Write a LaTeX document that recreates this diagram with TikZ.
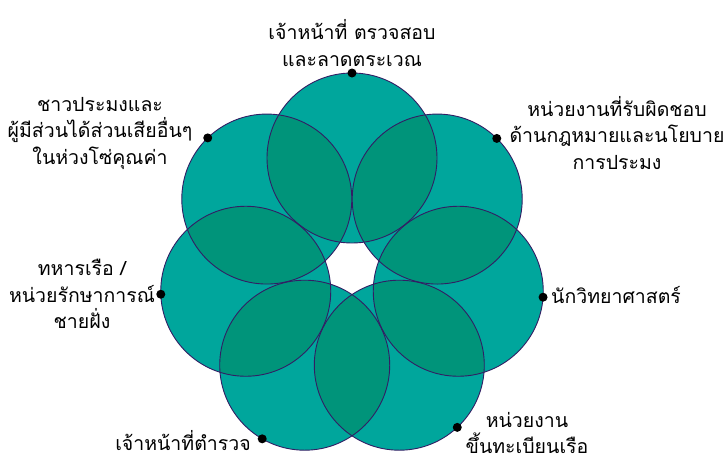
\documentclass[tikz,border=0pt]{standalone}
\usepackage{fontspec}
\usetikzlibrary{calc}
\newfontfamily\thaifont[Script=Thai]{Loma}
\definecolor{tealfill}{RGB}{0,166,156}
\definecolor{lensfill}{RGB}{0,148,122}
\definecolor{rim}{RGB}{50,30,100}
\tikzset{
  lbl/.style={align=center, inner sep=0pt, font=\thaifont\fontsize{19.5}{26.5}\selectfont, text=black},
  dotmark/.style={circle, fill=black, inner sep=0pt, minimum size=9pt},
  ringcircle/.style={draw=rim, line width=0.9pt}
}
\begin{document}
\begin{tikzpicture}[x=1pt,y=-1pt]
\useasboundingbox (0,0) rectangle (725,461);
\foreach \k in {0,...,6}{
  \coordinate (c\k) at ($(352,267)+({-90+\k*360/7}:109)$);
}
% circle bodies
\foreach \k in {0,...,6}{
  \fill[tealfill] (c\k) circle (85);
}
% overlaps of neighbours
\foreach \k [evaluate=\k as \j using {int(mod(\k+1,7))}] in {0,...,6}{
  \begin{scope}
    \clip (c\k) circle (85);
    \fill[lensfill] (c\j) circle (85);
  \end{scope}
}
% outlines
\foreach \k in {0,...,6}{
  \draw[ringcircle] (c\k) circle (85);
}
% dots
\node[dotmark] (d0) at ($(c0)+(-90:85)$) {};
\node[dotmark] (d1) at ($(c1)+(-45.5:85)$) {};
\node[dotmark] (d2) at ($(c2)+(4:85)$) {};
\node[dotmark] (d3) at ($(c3)+(47:85)$) {};
\node[dotmark] (d4) at ($(c4)+(120:85)$) {};
\node[dotmark] (d5) at ($(c5)+(178:85)$) {};
\node[dotmark] (d6) at ($(c6)+(-134:85)$) {};
% labels
\node[lbl] (t0) at (352,43) {เจ้าหน้าที่ ตรวจสอบ\\และลาดตระเวณ};
\node[lbl] (t1) at (617,133) {หน่วยงานที่รับผิดชอบ\\ด้านกฎหมายและนโยบาย\\การประมง};
\node[lbl, anchor=west] (t2) at (551,295) {นักวิทยาศาสตร์};
\node[lbl] (t3) at (527,433) {หน่วยงาน\\ขึ้นทะเบียนเรือ};
\node[lbl] (t4) at (183,441) {เจ้าหน้าที่ตำรวจ};
\node[lbl] (t5) at (82,294) {ทหารเรือ /\\หน่วยรักษาการณ์\\ชายฝั่ง};
\node[lbl] (t6) at (100,133) {ชาวประมงและ\\ผู้มีส่วนได้ส่วนเสียอื่นๆ\\ในห่วงโซ่คุณค่า};
\end{tikzpicture}
\end{document}
